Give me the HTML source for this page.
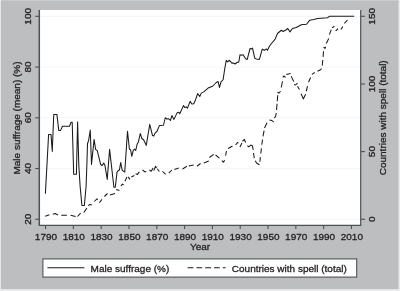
<!DOCTYPE html>
<html><head><meta charset="utf-8"><title>Male suffrage</title>
<style>
html,body{margin:0;padding:0;background:#e9eaeb;}
svg{display:block}
text{font-family:"Liberation Sans",Arial,Helvetica,sans-serif;font-size:9.7px;fill:#231f20;stroke:#231f20;stroke-width:0.3px;}
</style></head><body>
<svg width="400" height="291" viewBox="0 0 400 291">
<rect x="0.9" y="0.3" width="397.6" height="288.8" fill="#bcbec0"/>
<rect x="40" y="10" width="320.5" height="215" fill="#fff"/>
<line x1="40" x2="360" y1="16.3" y2="16.3" stroke="#f0f0f0" stroke-width="0.7"/>
<line x1="40" x2="360" y1="67.05" y2="67.05" stroke="#f0f0f0" stroke-width="0.7"/>
<line x1="40" x2="360" y1="117.8" y2="117.8" stroke="#f0f0f0" stroke-width="0.7"/>
<line x1="40" x2="360" y1="168.55" y2="168.55" stroke="#f0f0f0" stroke-width="0.7"/>
<line x1="40" x2="360" y1="219.3" y2="219.3" stroke="#f0f0f0" stroke-width="0.7"/>
<line x1="39.3" x2="39.3" y1="10" y2="225.7" stroke="#4f5153" stroke-width="1.5"/>
<line x1="360.7" x2="360.7" y1="10" y2="225.5" stroke="#4f5153" stroke-width="1.2"/>
<line x1="39" x2="361.3" y1="225.3" y2="225.3" stroke="#4f5153" stroke-width="1.3"/>
<line x1="35.2" x2="39" y1="16.3" y2="16.3" stroke="#4f5153" stroke-width="1.1"/>
<text transform="translate(31.40,16.30) rotate(-90) scale(1.031,1)" text-anchor="middle">100</text>
<line x1="35.2" x2="39" y1="67.05" y2="67.05" stroke="#4f5153" stroke-width="1.1"/>
<text transform="translate(31.40,67.05) rotate(-90) scale(1.031,1)" text-anchor="middle">80</text>
<line x1="35.2" x2="39" y1="117.8" y2="117.8" stroke="#4f5153" stroke-width="1.1"/>
<text transform="translate(31.40,117.80) rotate(-90) scale(1.031,1)" text-anchor="middle">60</text>
<line x1="35.2" x2="39" y1="168.55" y2="168.55" stroke="#4f5153" stroke-width="1.1"/>
<text transform="translate(31.40,168.55) rotate(-90) scale(1.031,1)" text-anchor="middle">40</text>
<line x1="35.2" x2="39" y1="219.3" y2="219.3" stroke="#4f5153" stroke-width="1.1"/>
<text transform="translate(31.40,219.30) rotate(-90) scale(1.031,1)" text-anchor="middle">20</text>
<line x1="361" x2="365" y1="16.3" y2="16.3" stroke="#4f5153" stroke-width="1.1"/>
<text transform="translate(374.60,16.30) rotate(-90) scale(1.031,1)" text-anchor="middle">150</text>
<line x1="361" x2="365" y1="84.0" y2="84.0" stroke="#4f5153" stroke-width="1.1"/>
<text transform="translate(374.60,84.00) rotate(-90) scale(1.031,1)" text-anchor="middle">100</text>
<line x1="361" x2="365" y1="151.6" y2="151.6" stroke="#4f5153" stroke-width="1.1"/>
<text transform="translate(374.60,151.60) rotate(-90) scale(1.031,1)" text-anchor="middle">50</text>
<line x1="361" x2="365" y1="219.3" y2="219.3" stroke="#4f5153" stroke-width="1.1"/>
<text transform="translate(374.60,219.30) rotate(-90) scale(1.031,1)" text-anchor="middle">0</text>
<line x1="45.55" x2="45.55" y1="225.8" y2="229" stroke="#4f5153" stroke-width="1.1"/>
<text transform="translate(45.95,239.70) scale(1.031,1)" text-anchor="middle">1790</text>
<line x1="73.36" x2="73.36" y1="225.8" y2="229" stroke="#4f5153" stroke-width="1.1"/>
<text transform="translate(73.76,239.70) scale(1.031,1)" text-anchor="middle">1810</text>
<line x1="101.17" x2="101.17" y1="225.8" y2="229" stroke="#4f5153" stroke-width="1.1"/>
<text transform="translate(101.57,239.70) scale(1.031,1)" text-anchor="middle">1830</text>
<line x1="128.98" x2="128.98" y1="225.8" y2="229" stroke="#4f5153" stroke-width="1.1"/>
<text transform="translate(129.38,239.70) scale(1.031,1)" text-anchor="middle">1850</text>
<line x1="156.79" x2="156.79" y1="225.8" y2="229" stroke="#4f5153" stroke-width="1.1"/>
<text transform="translate(157.19,239.70) scale(1.031,1)" text-anchor="middle">1870</text>
<line x1="184.60" x2="184.60" y1="225.8" y2="229" stroke="#4f5153" stroke-width="1.1"/>
<text transform="translate(185.00,239.70) scale(1.031,1)" text-anchor="middle">1890</text>
<line x1="212.41" x2="212.41" y1="225.8" y2="229" stroke="#4f5153" stroke-width="1.1"/>
<text transform="translate(212.81,239.70) scale(1.031,1)" text-anchor="middle">1910</text>
<line x1="240.22" x2="240.22" y1="225.8" y2="229" stroke="#4f5153" stroke-width="1.1"/>
<text transform="translate(240.62,239.70) scale(1.031,1)" text-anchor="middle">1930</text>
<line x1="268.03" x2="268.03" y1="225.8" y2="229" stroke="#4f5153" stroke-width="1.1"/>
<text transform="translate(268.43,239.70) scale(1.031,1)" text-anchor="middle">1950</text>
<line x1="295.84" x2="295.84" y1="225.8" y2="229" stroke="#4f5153" stroke-width="1.1"/>
<text transform="translate(296.24,239.70) scale(1.031,1)" text-anchor="middle">1970</text>
<line x1="323.65" x2="323.65" y1="225.8" y2="229" stroke="#4f5153" stroke-width="1.1"/>
<text transform="translate(324.05,239.70) scale(1.031,1)" text-anchor="middle">1990</text>
<line x1="351.46" x2="351.46" y1="225.8" y2="229" stroke="#4f5153" stroke-width="1.1"/>
<text transform="translate(351.86,239.70) scale(1.031,1)" text-anchor="middle">2010</text>
<text transform="translate(200.00,250.40) scale(1.031,1)" text-anchor="middle">Year</text>
<text transform="translate(20.00,118.00) rotate(-90) scale(1.031,1)" text-anchor="middle">Male suffrage (mean) (%)</text>
<text transform="translate(386.00,117.80) rotate(-90) scale(1.031,1)" text-anchor="middle">Countries with spell (total)</text>
<path d="M45.40,193.60 L48.60,134.40 L51.00,134.40 L52.25,151.50 L53.75,114.40 L56.90,114.40 L58.75,130.40 L60.60,130.40 L62.50,126.25 L69.50,126.25 L71.00,122.30 L72.20,122.30 L73.70,174.30 L76.40,174.30 L77.60,121.90 L78.80,165.00 L80.10,186.00 L81.90,205.50 L84.40,205.50 L86.10,186.00 L86.90,164.00 L87.50,143.75 L88.60,140.60 L90.25,130.00 L91.50,164.40 L94.10,139.40 L95.60,149.40 L97.25,150.60 L100.60,164.40 L101.90,165.60 L103.75,163.10 L105.00,165.60 L107.25,179.40 L109.60,149.40 L113.90,187.20 L115.30,187.20 L117.00,172.40 L118.40,170.20 L119.40,170.20 L120.70,162.50 L122.20,170.40 L124.75,172.00 L127.50,131.25 L129.40,149.00 L130.60,149.75 L131.80,156.30 L133.25,150.30 L134.50,149.10 L135.70,150.50 L137.10,144.30 L138.40,141.90 L140.25,133.50 L141.90,138.50 L143.75,140.00 L146.25,145.40 L149.75,124.40 L152.50,135.60 L153.75,136.00 L155.00,133.10 L156.90,131.50 L159.40,125.60 L163.50,125.25 L165.25,117.75 L166.90,119.00 L168.75,118.75 L170.40,120.50 L171.90,115.60 L174.00,119.40 L176.90,113.10 L178.75,112.25 L179.75,113.75 L183.50,105.60 L184.75,107.50 L186.25,106.90 L187.50,108.10 L190.10,101.40 L191.90,104.00 L193.75,103.80 L195.60,99.70 L197.60,93.60 L199.75,96.50 L201.25,93.10 L203.75,91.90 L208.10,88.10 L212.50,86.25 L216.25,82.50 L218.10,81.50 L219.40,87.50 L221.00,81.90 L223.10,79.75 L224.75,68.75 L226.25,60.25 L227.50,61.90 L229.40,60.25 L231.90,63.10 L233.75,63.10 L235.00,64.00 L237.25,62.25 L238.75,62.25 L240.00,54.75 L241.50,55.25 L243.10,54.75 L245.60,58.75 L247.25,59.40 L250.00,48.50 L251.25,49.00 L252.50,48.10 L254.75,58.10 L256.25,59.00 L259.40,59.40 L262.25,49.20 L264.40,50.25 L266.50,49.00 L267.50,50.25 L269.40,46.25 L272.50,42.25 L275.00,39.40 L277.50,33.50 L281.25,30.25 L283.10,31.50 L286.25,29.75 L287.75,28.50 L290.00,31.90 L292.50,28.50 L296.25,27.50 L301.25,24.75 L306.50,24.25 L309.75,20.20 L313.75,19.60 L317.50,18.40 L327.50,17.75 L329.40,16.30 L354.20,16.30" fill="none" stroke="#1a1a1a" stroke-width="1.05" stroke-linejoin="round"/>
<path d="M45.25,216.25 L49.40,214.75 M52.80,214.20 L55.00,213.60 L58.00,214.90 M61.25,215.25 L66.90,215.25 M70.60,215.25 L75.60,216.50 M77.50,216.50 L80.60,213.10 M83.75,212.50 L86.90,208.10 M88.10,205.60 L90.00,204.40 L91.90,205.00 M94.40,201.50 L96.90,198.75 L97.50,200.00 M99.40,202.75 L101.90,199.40 M104.40,196.50 L107.50,193.50 M110.00,195.00 L115.00,193.50 M116.25,189.40 L119.40,190.60 M120.90,185.90 L122.50,184.10 L123.60,185.00 M125.00,181.25 L126.90,176.90 M128.10,176.90 L130.00,179.40 M131.25,176.90 L134.40,175.60 M135.60,173.75 L137.50,174.40 L139.40,171.90 M142.50,170.00 L145.00,171.90 L146.25,171.50 M149.40,170.00 L151.25,171.25 L153.10,168.10 M153.75,170.60 L155.60,166.25 L156.50,168.10 M157.25,168.75 L159.40,171.50 M162.50,171.25 L165.60,174.40 M168.75,173.10 L171.90,170.00 M174.40,169.40 L178.75,168.10 M182.50,169.00 L186.90,166.25 M188.75,166.00 L193.75,165.00 M196.90,166.25 L200.60,163.50 M203.75,163.10 L208.75,161.00 M209.40,157.50 L213.75,154.40 M215.60,155.00 L219.40,158.10 M221.90,160.60 L223.30,162.10 L224.75,160.30 M225.60,155.60 L226.50,151.00 M228.10,148.50 L232.50,146.00 M235.60,145.00 L237.50,142.50 L238.50,143.10 M240.00,146.90 L241.90,143.10 M242.50,141.25 L244.40,139.40 L245.60,142.50 M247.40,145.80 L248.80,146.80 L250.80,145.10 L252.30,145.70 L253.30,149.90 M253.50,153.00 L254.30,158.20 M255.30,160.70 L256.50,163.00 L259.50,164.70 M259.80,161.80 L260.40,157.10 M260.80,153.50 L261.40,148.40 M261.80,144.70 L262.50,139.50 M263.00,136.30 L264.10,130.70 M264.50,127.90 L267.00,122.70 M269.40,120.00 L271.90,120.60 L273.75,121.90 M274.40,118.10 L275.60,116.25 L276.25,113.10 M276.50,110.00 L277.10,103.75 M277.25,101.25 L277.70,95.30 M277.50,92.25 L278.75,93.10 L280.60,91.25 M281.25,87.50 L282.50,81.25 M282.75,77.50 L283.75,76.00 L285.60,77.25 M286.25,74.40 L290.60,73.50 M291.25,76.25 L293.75,81.60 M294.00,84.40 L295.60,85.00 L297.50,83.10 M297.50,86.25 L299.40,89.40 M301.10,93.70 L303.30,98.90 L305.60,94.30 M306.25,91.25 L307.50,86.25 M308.50,82.30 L310.60,77.50 M311.90,74.40 L314.75,72.50 M317.50,71.25 L320.60,69.75 L321.50,68.50 M322.25,65.60 L322.75,60.00 M323.10,56.90 L323.50,51.25 M323.50,47.10 L325.00,48.40 L325.60,46.75 M326.25,43.40 L328.75,38.40 M329.40,34.60 L331.25,29.60 M332.25,27.75 L334.40,26.25 M335.60,30.90 L338.10,28.75 M341.00,29.60 L342.75,26.50 M344.40,23.40 L347.50,20.00" fill="none" stroke="#1a1a1a" stroke-width="1.05" stroke-linejoin="round"/>
<rect x="42.9" y="258.9" width="313.8" height="18.2" fill="#fff" stroke="#4f5153" stroke-width="1.1"/>
<line x1="47.4" x2="84.4" y1="267.8" y2="267.8" stroke="#1a1a1a" stroke-width="1.05"/>
<line x1="187.6" x2="225.6" y1="267.8" y2="267.8" stroke="#1a1a1a" stroke-width="1.05" stroke-dasharray="5.8 3.0"/>
<text transform="translate(90.60,271.80) scale(1.031,1)" text-anchor="start">Male suffrage (%)</text>
<text transform="translate(231.80,271.80) scale(1.031,1)" text-anchor="start">Countries with spell (total)</text>
</svg>
</body></html>
